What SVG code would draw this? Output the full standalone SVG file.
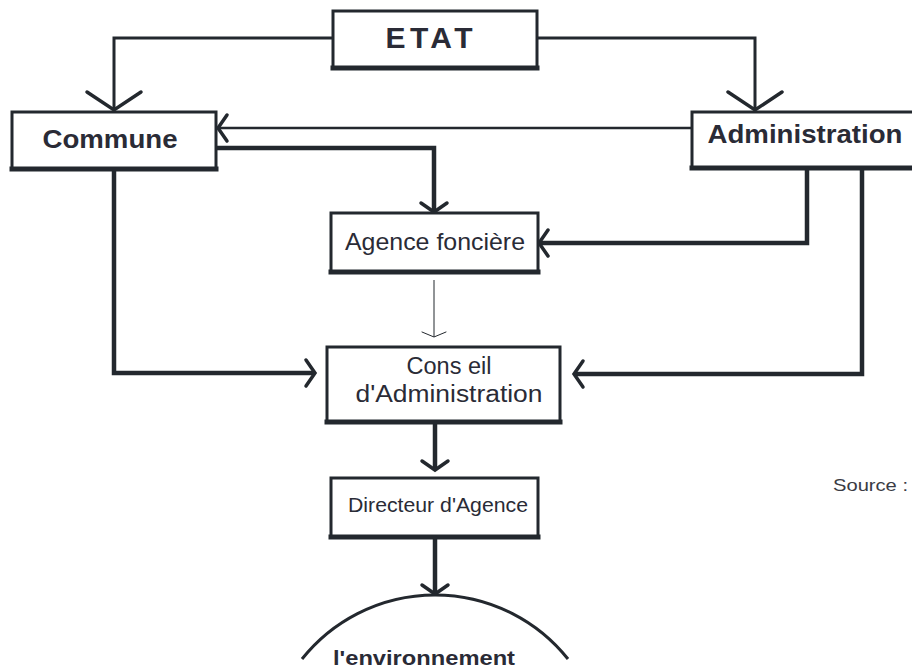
<svg xmlns="http://www.w3.org/2000/svg" width="912" height="671" viewBox="0 0 912 671">
  <style>
    .box { fill: #ffffff; stroke: #23282e; stroke-width: 3; }
    .base { stroke: #23282e; stroke-width: 5; stroke-linecap: square; }
    .lbl { font-family: "Liberation Sans", Arial, sans-serif; fill: #2a2b36; text-anchor: middle; }
    .b { font-weight: bold; }
    .wire { fill: none; stroke: #23282e; stroke-linejoin: miter; }
    .w-thin { stroke-width: 3; }
    .w-mid { stroke-width: 2.5; }
    .w-thick { stroke-width: 4.5; }
    .w-hair { stroke-width: 1; }
    .head { fill: none; stroke: #23282e; stroke-linecap: round; }
  </style>
  <defs>
    <marker id="big" markerUnits="userSpaceOnUse" orient="auto" overflow="visible" markerWidth="1" markerHeight="1">
      <path class="head" d="M-18,-27 L0,0 L-18,27" stroke-width="3.5"/>
    </marker>
    <marker id="mid" markerUnits="userSpaceOnUse" orient="auto" overflow="visible" markerWidth="1" markerHeight="1">
      <path class="head" d="M-9,-13 L0,0 L-9,13" stroke-width="3.5"/>
    </marker>
    <marker id="tiny" markerUnits="userSpaceOnUse" orient="auto" overflow="visible" markerWidth="1" markerHeight="1">
      <path class="head" d="M-5,-12 L0,0 L-5,12" stroke-width="1"/>
    </marker>
  </defs>

  <!-- connectors -->
  <g id="connectors">
    <path class="wire w-thin" d="M333,38 H114 V110" marker-end="url(#big)"/>
    <path class="wire w-thin" d="M537,38 H755 V110" marker-end="url(#big)"/>
    <path class="wire w-mid" d="M692,128 H218" marker-end="url(#mid)"/>
    <path class="wire w-thick" d="M216,148 H434 V212" marker-end="url(#mid)"/>
    <path class="wire w-thick" d="M807,168 V243 H539" marker-end="url(#mid)"/>
    <path class="wire w-thick" d="M862,168 V374 H574" marker-end="url(#mid)"/>
    <path class="wire w-thick" d="M114,169 V373 H315" marker-end="url(#mid)"/>
    <path class="wire w-hair" d="M434,280 V337" marker-end="url(#tiny)"/>
    <path class="wire w-thick" d="M435,422 V470" marker-end="url(#mid)"/>
    <path class="wire w-thick" d="M435,537 V594" marker-end="url(#mid)"/>
  </g>

  <g id="etat">
    <rect class="box" x="333" y="11" width="204" height="57"/>
    <line class="base" x1="333" y1="68" x2="537" y2="68"/>
    <text class="lbl b" x="429" y="48" font-size="30" textLength="87" lengthAdjust="spacing">ETAT</text>
  </g>

  <g id="commune">
    <rect class="box" x="12" y="112" width="204" height="57"/>
    <line class="base" x1="12" y1="169" x2="216" y2="169"/>
    <text class="lbl b" x="110" y="148" font-size="25" textLength="135" lengthAdjust="spacingAndGlyphs">Commune</text>
  </g>

  <g id="administration">
    <rect class="box" x="692" y="112" width="230" height="56"/>
    <line class="base" x1="692" y1="168" x2="922" y2="168"/>
    <text class="lbl b" x="805" y="143" font-size="25" textLength="195" lengthAdjust="spacingAndGlyphs">Administration</text>
  </g>

  <g id="agence-fonciere">
    <rect class="box" x="331" y="213" width="207" height="59"/>
    <line class="base" x1="331" y1="272" x2="538" y2="272"/>
    <text class="lbl" x="435" y="250" font-size="24" textLength="180" lengthAdjust="spacingAndGlyphs">Agence foncière</text>
  </g>

  <g id="conseil">
    <rect class="box" x="327" y="347" width="233" height="75"/>
    <line class="base" x1="327" y1="422" x2="560" y2="422"/>
    <text class="lbl" x="449" y="374" font-size="23" textLength="85" lengthAdjust="spacingAndGlyphs">Cons eil</text>
    <text class="lbl" x="449" y="402" font-size="23" textLength="187" lengthAdjust="spacingAndGlyphs">d'Administration</text>
  </g>

  <g id="directeur">
    <rect class="box" x="331" y="478" width="207" height="59"/>
    <line class="base" x1="331" y1="537" x2="538" y2="537"/>
    <text class="lbl" x="438" y="512" font-size="20" textLength="180" lengthAdjust="spacingAndGlyphs">Directeur d'Agence</text>
  </g>

  <g id="environnement">
    <path class="wire" stroke-width="3" d="M302,659 A170,170 0 0 1 568,659"/>
    <text class="lbl b" x="424" y="665" font-size="21" textLength="182" lengthAdjust="spacingAndGlyphs">l'environnement</text>
  </g>

  <g id="source">
    <text x="833" y="491" font-family="'Liberation Sans', Arial, sans-serif" font-size="17" fill="#3a3b44" textLength="75" lengthAdjust="spacingAndGlyphs">Source :</text>
  </g>
</svg>
